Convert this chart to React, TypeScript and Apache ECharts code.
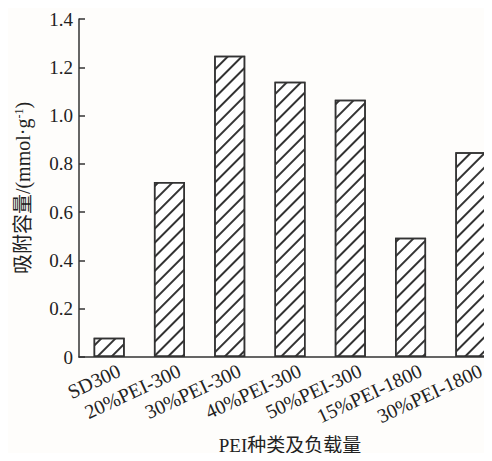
import React, { useEffect, useRef } from "react";
import * as echarts from "echarts";

const categories = [
  "SD300",
  "20%PEI-300",
  "30%PEI-300",
  "40%PEI-300",
  "50%PEI-300",
  "15%PEI-1800",
  "30%PEI-1800",
];
const adsorption = [0.08, 0.725, 1.248, 1.14, 1.066, 0.494, 0.848];
const yTicks = { min: 0, max: 1.4, interval: 0.2 };
const xName = "PEI种类及负载量";
const yNameMain = "吸附容量/(mmol·g";
const yNameSup = "-1";

const SERIF = "Liberation Serif";
const CJK = "Liberation Serif, Noto Sans CJK SC";

export default function App() {
  const ref = useRef<HTMLDivElement>(null);
  useEffect(() => {
    if (!ref.current) return;
    const chart = echarts.init(ref.current, undefined, { renderer: "svg" });
    chart.setOption({
      animation: false,
      backgroundColor: "#fefdfb",
      grid: { left: 79, top: 19, bottom: 104, right: -9, containLabel: false, outerBoundsMode: "none" },
      xAxis: {
        type: "category",
        data: categories,
        boundaryGap: true,
        axisLine: { lineStyle: { color: "#333", width: 1.5 } },
        axisTick: { show: false },
        axisLabel: {
          interval: 0,
          rotate: 25,
          margin: 17,
          padding: [0, -11, 0, 0],
          fontFamily: SERIF,
          fontSize: 20,
          color: "#222",
        },
        name: xName,
        nameLocation: "middle",
        nameGap: 79,
        nameTextStyle: { fontFamily: CJK, fontSize: 19, color: "#222" },
      },
      yAxis: {
        type: "value",
        min: yTicks.min,
        max: yTicks.max,
        interval: yTicks.interval,
        splitLine: { show: false },
        axisLine: { show: true, lineStyle: { color: "#333", width: 1.5 } },
        axisTick: { show: true, inside: true, length: 6, lineStyle: { color: "#333", width: 1.5 } },
        axisLabel: {
          margin: 6,
          fontFamily: SERIF,
          fontSize: 19,
          color: "#222",
          formatter: (v: number) => (v === 0 ? "0" : v.toFixed(1)),
        },
        name: "{m|" + yNameMain + "}{s|" + yNameSup + "}{m|)}",
        nameLocation: "middle",
        nameGap: 46,
        nameRotate: 90,
        nameTextStyle: {
          rich: {
            m: { fontFamily: CJK, fontSize: 20, color: "#222" },
            s: { fontFamily: SERIF, fontSize: 12, color: "#222", verticalAlign: "top", padding: [0, 0, 8, 0] },
          },
        },
      },
      series: [
        {
          type: "bar",
          data: adsorption,
          barWidth: 31,
          itemStyle: {
            color: "#fff",
            borderColor: "#333",
            borderWidth: 1.5,
            decal: {
              symbol: "rect",
              symbolSize: 1,
              color: "#333",
              dashArrayX: [1, 0],
              dashArrayY: [1.2, 7.8],
              rotation: -Math.PI / 4,
            },
          },
        },
      ],
    });
    return () => chart.dispose();
  }, []);
  return <div ref={ref} style={{ width: 492, height: 461, margin: -8 }} />;
}
